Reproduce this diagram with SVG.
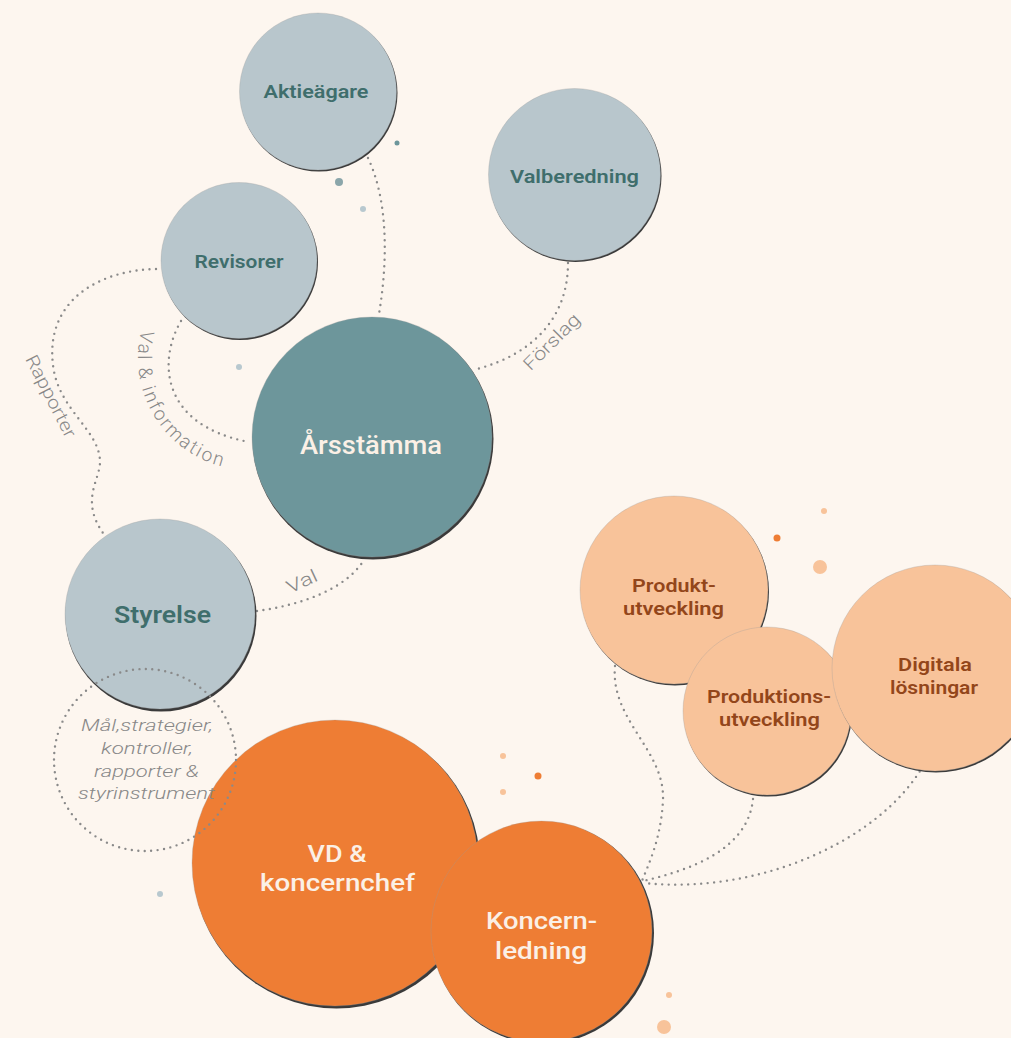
<svg xmlns="http://www.w3.org/2000/svg" width="1011" height="1038" viewBox="0 0 1011 1038">
<style>
.sh{fill:#3a3a3a}
.e{stroke:#9a9a9a;stroke-width:0.6;stroke-opacity:0.5}
.gb{fill:#B8C6CC}
.tl{fill:#6D969B}
.or{fill:#EE7D34}
.lo{fill:#F8C39A}
text{font-family:Roboto,"Liberation Sans",sans-serif;text-anchor:middle}
.t1{fill:#3F6E6C;font-weight:600;font-size:19px}
.t2{fill:#3F6E6C;font-weight:600;font-size:24px}
.tw{fill:#FBF0E6;font-weight:500;font-size:24px}
.tb{fill:#93461A;font-weight:600;font-size:19px}
.lbl{fill:#888888;font-weight:300;font-size:18px}
.it{fill:#888888;font-weight:300;font-style:italic;font-size:17px}
.dot{fill:none;stroke:#8a8a8a;stroke-width:2.4;stroke-linecap:round;stroke-dasharray:0 6.5}
</style>
<rect width="1011" height="1038" fill="#FDF6EF"/>

<g id="decor">
<circle cx="397" cy="143" r="2.5" fill="#6D969B"/>
<circle cx="339" cy="182" r="4" fill="#8BA6AA"/>
<circle cx="363" cy="209" r="3" fill="#B8C8CF"/>
<circle cx="239" cy="367" r="3" fill="#B8C8CF"/>
<circle cx="160" cy="894" r="3" fill="#B8C8CF"/>
<circle cx="824" cy="511" r="3" fill="#F8C39A"/>
<circle cx="777" cy="538" r="3.5" fill="#EE7D34"/>
<circle cx="820" cy="567" r="7" fill="#F8C39A"/>
<circle cx="503" cy="756" r="3" fill="#F8C39A"/>
<circle cx="538" cy="776" r="3.5" fill="#EE7D34"/>
<circle cx="503" cy="792" r="3" fill="#F8C39A"/>
<circle cx="669" cy="995" r="3" fill="#F8C39A"/>
<circle cx="664" cy="1027" r="7" fill="#F8C39A"/>
</g>

<g id="connectors">
<path class="dot" d="M 368 158 C 388 200, 388 260, 379 314"/>
<path class="dot" d="M 568 263 C 568 320, 530 355, 477 369"/>
<path class="dot" d="M 156 269 C 100 270, 45 300, 53 365 C 58 410, 100 430, 100 462 C 100 480, 80 500, 103 533"/>
<path class="dot" d="M 181 321 C 158 360, 160 425, 249 442"/>
<path class="dot" d="M 257 611 C 300 605, 345 590, 364 560"/>
<path class="dot" d="M 615 666 C 610 720, 665 750, 663 800 C 661 840, 648 865, 642 881"/>
<path class="dot" d="M 753 799 C 748 850, 690 870, 643 881"/>
<path class="dot" d="M 923 766 C 880 840, 760 895, 643 883"/>
</g>

<g id="aktieagare">
<circle class="sh" cx="319" cy="93" r="78.5"/>
<circle class="gb e" cx="318" cy="91.5" r="78.5"/>
<text class="t1" x="316" y="98" textLength="105" lengthAdjust="spacingAndGlyphs">Aktieägare</text>
</g>
<g id="revisorer">
<circle class="sh" cx="240" cy="262" r="78"/>
<circle class="gb e" cx="239" cy="260.5" r="78"/>
<text class="t1" x="239" y="268" textLength="89" lengthAdjust="spacingAndGlyphs">Revisorer</text>
</g>
<g id="valberedning">
<circle class="sh" cx="575.5" cy="176" r="86"/>
<circle class="gb e" cx="574.5" cy="174.5" r="86"/>
<text class="t1" x="574.5" y="183" textLength="129" lengthAdjust="spacingAndGlyphs">Valberedning</text>
</g>
<g id="arsstamma">
<circle class="sh" cx="373" cy="439" r="120.5"/>
<circle class="tl e" cx="372" cy="437" r="120"/>
<text class="tw" x="371" y="454" style="font-size:25px" textLength="142" lengthAdjust="spacingAndGlyphs">Årsstämma</text>
</g>
<g id="styrelse">
<circle class="sh" cx="161" cy="616" r="95.5"/>
<circle class="gb e" cx="160" cy="614" r="95"/>
<text class="t2" x="162.5" y="623" textLength="97" lengthAdjust="spacingAndGlyphs">Styrelse</text>
</g>
<g id="vd">
<circle class="sh" cx="336.5" cy="865" r="143.5"/>
<circle class="or e" cx="335" cy="863" r="143"/>
<text class="tw"><tspan x="337" y="862" textLength="59" lengthAdjust="spacingAndGlyphs">VD &amp;</tspan><tspan x="337.5" y="891" textLength="155" lengthAdjust="spacingAndGlyphs">koncernchef</tspan></text>
</g>
<g id="koncernledning">
<circle class="sh" cx="543" cy="933" r="111"/>
<circle class="or e" cx="541.5" cy="931.5" r="110.5"/>
<text class="tw"><tspan x="541.5" y="929" textLength="111" lengthAdjust="spacingAndGlyphs">Koncern-</tspan><tspan x="541" y="959" textLength="92" lengthAdjust="spacingAndGlyphs">ledning</tspan></text>
</g>
<g id="produktutveckling">
<circle class="sh" cx="675" cy="591.5" r="94"/>
<circle class="lo e" cx="674" cy="590" r="94"/>
<text class="tb"><tspan x="674" y="592" textLength="84" lengthAdjust="spacingAndGlyphs">Produkt-</tspan><tspan x="673.5" y="615" textLength="101" lengthAdjust="spacingAndGlyphs">utveckling</tspan></text>
</g>
<g id="produktionsutveckling">
<circle class="sh" cx="768" cy="712.5" r="84"/>
<circle class="lo e" cx="767" cy="711" r="84"/>
<text class="tb"><tspan x="769" y="703" textLength="124" lengthAdjust="spacingAndGlyphs">Produktions-</tspan><tspan x="769.5" y="726" textLength="101" lengthAdjust="spacingAndGlyphs">utveckling</tspan></text>
</g>
<g id="digitala">
<circle class="sh" cx="936" cy="669.5" r="103"/>
<circle class="lo e" cx="935" cy="668" r="103"/>
<text class="tb"><tspan x="935" y="671" textLength="74" lengthAdjust="spacingAndGlyphs">Digitala</tspan><tspan x="934" y="694" textLength="88" lengthAdjust="spacingAndGlyphs">lösningar</tspan></text>
</g>

<g id="styrning">
<circle class="dot" cx="145" cy="760" r="91"/>
<text class="it"><tspan x="147" y="731" textLength="132" lengthAdjust="spacingAndGlyphs">Mål,strategier,</tspan><tspan x="147" y="754" textLength="92" lengthAdjust="spacingAndGlyphs">kontroller,</tspan><tspan x="146.5" y="777" textLength="105" lengthAdjust="spacingAndGlyphs">rapporter &amp;</tspan><tspan x="146.5" y="799" textLength="137" lengthAdjust="spacingAndGlyphs">styrinstrument</tspan></text>
</g>

<g id="labels">
<defs><path id="arcVal" d="M 142.3 327.1 A 112 112 0 0 0 226.7 467.5"/></defs>
<text class="lbl" style="font-size:19px;letter-spacing:2px"><textPath href="#arcVal" startOffset="50%">Val &amp; information</textPath></text>
<text class="lbl" transform="translate(45.5 399) rotate(63)" textLength="90" lengthAdjust="spacingAndGlyphs">Rapporter</text>
<text class="lbl" transform="translate(556 346) rotate(-45)" textLength="72" lengthAdjust="spacingAndGlyphs">Förslag</text>
<text class="lbl" transform="translate(304.5 587) rotate(-25)" textLength="32" lengthAdjust="spacingAndGlyphs">Val</text>
</g>
</svg>
